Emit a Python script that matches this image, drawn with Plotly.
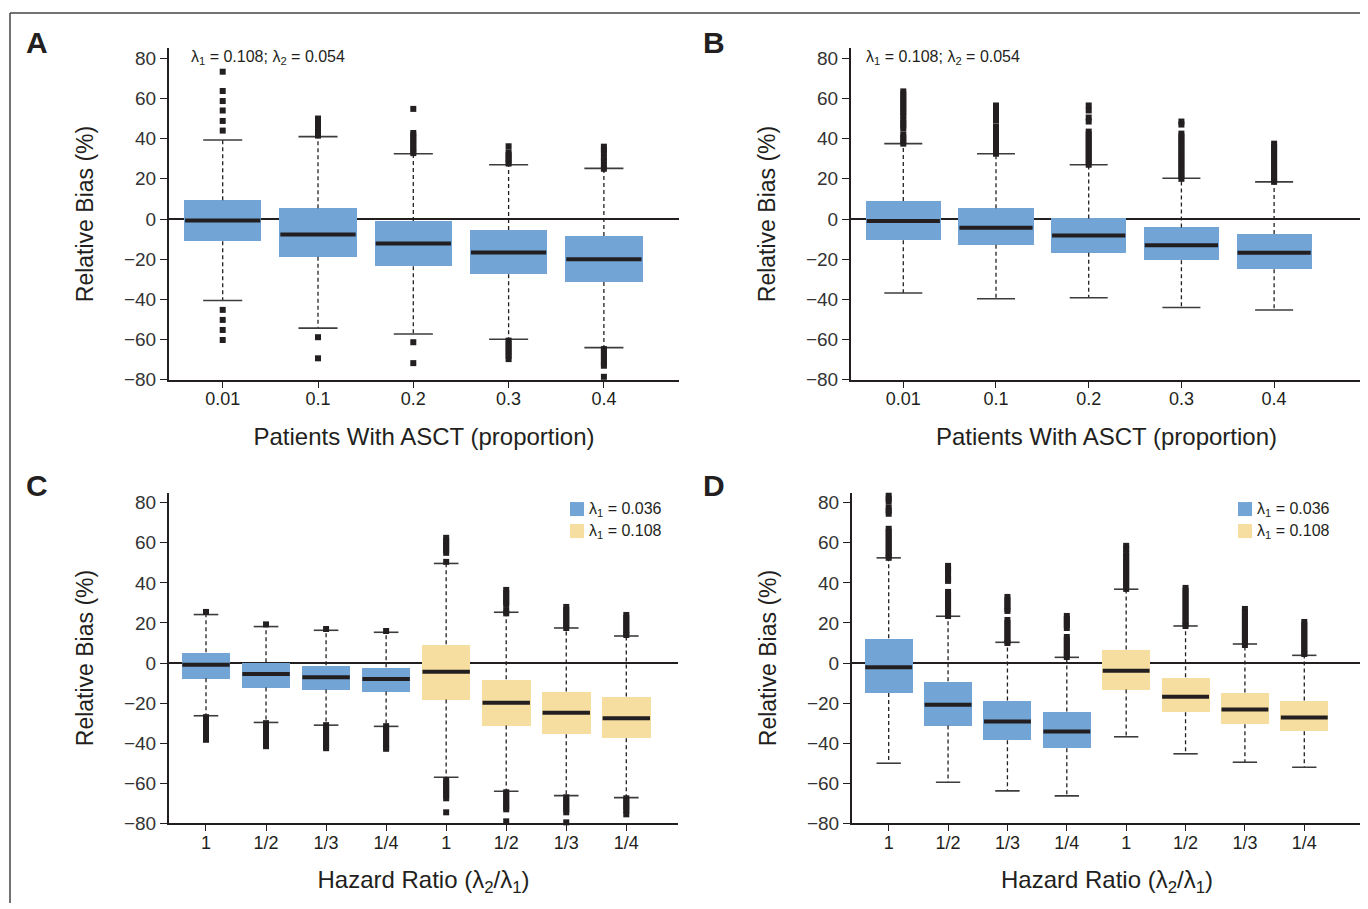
import plotly.graph_objects as go
from plotly.subplots import make_subplots

# page body has an 8px margin; the photographed page is also squeezed slightly in height
OFF = 8
SY = 0.986
W = 1368 - OFF
H = int(round(909 / SY)) - 2 * OFF

# ---------------- data ----------------
asct_labels = ["0.01", "0.1", "0.2", "0.3", "0.4"]
hr_labels = ["1", "1/2", "1/3", "1/4", "1", "1/2", "1/3", "1/4"]

# Panel A
A_q3 = [9.3, 5.3, -1.0, -5.5, -8.5]
A_med = [-0.7, -7.7, -12.2, -16.7, -20.0]
A_q1 = [-11.0, -18.8, -23.5, -27.5, -31.3]
A_hi = [39.3, 41.0, 32.5, 27.0, 25.2]
A_lo = [-40.5, -54.3, -57.2, -59.8, -64.0]
A_out = [
    [73.3, 63.7, 58.7, 54.0, 48.8, 44.0, -45.2, -50.2, -55.2, -60.2],
    [50.0, 48.5, 47.0, 45.5, 44.0, 42.5, 41.5, -58.8, -69.3],
    [54.8, 42.8, 41.5, 40.0, 38.5, 37.0, 35.5, 34.0, 32.8, -61.3, -71.7],
    [36.2, 33.2, 31.8, 30.4, 29.0, 27.6, -60.5, -62.0, -63.5, -65.0, -66.5, -68.0, -69.7],
    [36.0, 34.5, 33.0, 30.5, 29.0, 26.5, 25.0, -64.7, -66.0, -67.5, -69.0, -70.5, -72.0, -73.0, -78.5],
]

# Panel B
B_q3 = [9.0, 5.3, 0.3, -4.2, -7.5]
B_med = [-1.0, -4.3, -8.2, -13.0, -16.8]
B_q1 = [-10.5, -12.8, -16.8, -20.5, -25.0]
B_hi = [37.5, 32.5, 27.0, 20.3, 18.5]
B_lo = [-36.8, -39.7, -39.2, -44.0, -45.3]
B_out = [
    [63.5, 62.0, 60.5, 59.0, 57.5, 56.0, 54.5, 53.0, 51.5, 49.5, 48.0, 46.5, 45.0, 42.0, 40.5, 39.0, 37.5],
    [56.5, 55.0, 53.5, 52.0, 50.5, 49.0, 46.0, 44.5, 43.0, 41.5, 40.0, 38.5, 37.0, 35.5, 34.0, 32.5],
    [56.5, 54.0, 50.5, 48.5, 43.5, 42.0, 40.5, 39.0, 37.5, 36.0, 34.5, 33.0, 31.5, 30.0, 28.5, 27.0],
    [48.5, 47.0, 42.5, 41.0, 39.5, 38.0, 36.5, 35.0, 33.5, 32.0, 30.5, 29.0, 27.5, 26.0, 24.5, 23.0, 21.5, 20.0],
    [37.5, 36.0, 34.5, 33.0, 31.5, 30.0, 28.5, 27.0, 25.5, 24.0, 22.5, 21.0, 19.5, 18.5],
]

# Panel C
C_q3 = [5.35, 0.35, -1.15, -2.15, 9.35, -8.15, -14.15, -16.65]
C_med = [-0.8, -5.5, -7.15, -8.0, -4.3, -19.8, -24.8, -27.5]
C_q1 = [-7.65, -12.15, -13.15, -14.15, -18.15, -31.15, -35.5, -37.5]
C_hi = [24.2, 18.2, 16.35, 15.35, 49.7, 25.35, 17.5, 13.5]
C_lo = [-26.3, -29.65, -31.0, -31.6, -57.0, -64.0, -66.15, -67.15]
C_out = [
    [25.5, -27.0, -28.5, -30.0, -31.5, -33.0, -34.5, -36.0, -37.5, -38.3],
    [19.3, -30.0, -31.5, -33.0, -34.5, -36.0, -37.5, -39.0, -40.5, -41.5],
    [17.0, -31.0, -32.5, -34.0, -35.5, -37.0, -38.5, -40.0, -41.5, -42.5],
    [16.0, -31.5, -33.0, -34.5, -36.0, -37.5, -39.0, -40.5, -42.0, -42.8],
    [62.5, 61.0, 59.5, 58.0, 56.5, 55.0, 50.5, -58.5, -60.0, -61.5, -63.0, -64.5, -66.0, -67.5, -74.5],
    [36.5, 35.0, 33.5, 32.0, 30.5, 29.0, 26.0, 24.8, -64.5, -66.0, -67.5, -69.0, -70.5, -72.0, -73.0, -79.0],
    [28.0, 26.5, 25.0, 23.5, 22.0, 20.5, 19.0, 17.5, -67.0, -68.5, -70.0, -71.5, -73.0, -74.5, -79.5],
    [24.0, 22.5, 21.0, 19.5, 18.0, 16.5, 15.0, 14.0, -67.5, -69.0, -70.5, -72.0, -73.5, -75.5, -80.5],
]

# Panel D
D_q3 = [12.35, -9.15, -18.65, -24.15, 6.7, -7.15, -14.65, -18.65]
D_med = [-2.15, -20.8, -29.15, -34.15, -3.8, -16.8, -23.15, -27.15]
D_q1 = [-15.0, -31.15, -38.5, -42.5, -13.15, -24.5, -30.5, -34.0]
D_hi = [52.5, 23.35, 10.35, 2.85, 36.85, 18.5, 9.5, 3.85]
D_lo = [-50.0, -59.5, -63.8, -66.3, -36.8, -45.3, -49.5, -52.0]
D_out = [
    [83.5, 82.0, 80.5, 77.5, 76.0, 74.5, 67.0, 65.5, 64.0, 62.5, 61.0, 59.5, 58.0, 56.5, 55.0, 53.5, 52.5],
    [48.5, 47.0, 46.0, 43.5, 42.0, 41.0, 35.5, 34.0, 32.5, 31.0, 29.5, 28.0, 26.5, 25.0, 23.5],
    [33.0, 31.5, 30.0, 28.5, 27.0, 26.0, 21.5, 20.0, 18.5, 17.0, 15.5, 14.0, 12.5, 11.0, 10.0],
    [23.5, 22.0, 20.5, 19.0, 17.5, 13.0, 11.5, 10.0, 8.5, 7.0, 5.5, 4.0, 3.0],
    [58.5, 57.0, 55.0, 53.5, 52.0, 50.5, 49.0, 47.5, 46.0, 44.5, 43.0, 41.5, 40.0, 38.5, 37.0],
    [37.5, 36.0, 34.5, 33.0, 31.5, 30.0, 28.5, 27.0, 25.5, 24.0, 22.5, 21.0, 19.5, 18.5],
    [27.0, 25.5, 24.0, 22.5, 21.0, 19.5, 18.0, 16.5, 15.0, 13.5, 12.0, 10.5, 9.0],
    [20.5, 19.0, 17.5, 16.0, 14.5, 13.0, 11.5, 10.0, 8.5, 7.0, 5.5, 4.5],
]

lambda_groups = ["λ<sub>1</sub> = 0.036", "λ<sub>1</sub> = 0.108"]
panel_letters = ["A", "B", "C", "D"]
top_note = "λ<sub>1</sub> = 0.108; λ<sub>2</sub> = 0.054"

# ---------------- style ----------------
BLUE = "#72A5D6"
YELLOW = "#F5DEA0"
INK = "#231F20"
CAP = "#3c3c3c"
BOX_W = 0.81
MED_W = 0.79
CAP_W = 0.41
FONT = "Liberation Sans, Arial, sans-serif"


def px(x):
    return (x - OFF) / W


def py(y):
    return 1 - (y / SY - OFF) / H


fig = make_subplots(rows=2, cols=2)

panels = [
    dict(row=1, col=1, labels=asct_labels, q1=A_q1, med=A_med, q3=A_q3, lo=A_lo, hi=A_hi, out=A_out,
         colors=[BLUE] * 5, dom_x=(169, 679), dom_y=(48, 379), xr=(-0.5635, 4.788),
         xtitle="Patients With ASCT (proportion)", xstand=20),
    dict(row=1, col=2, labels=asct_labels, q1=B_q1, med=B_med, q3=B_q3, lo=B_lo, hi=B_hi, out=B_out,
         colors=[BLUE] * 5, dom_x=(851, 1362), dom_y=(48, 379), xr=(-0.564, 4.948),
         xtitle="Patients With ASCT (proportion)", xstand=20),
    dict(row=2, col=1, labels=hr_labels, q1=C_q1, med=C_med, q3=C_q3, lo=C_lo, hi=C_hi, out=C_out,
         colors=[BLUE] * 4 + [YELLOW] * 4, dom_x=(169, 678), dom_y=(491.7, 821.7), xr=(-0.616, 7.861),
         xtitle="Hazard Ratio (λ<sub>2</sub>/λ<sub>1</sub>)", xstand=19),
    dict(row=2, col=2, labels=hr_labels, q1=D_q1, med=D_med, q3=D_q3, lo=D_lo, hi=D_hi, out=D_out,
         colors=[BLUE] * 4 + [YELLOW] * 4, dom_x=(852, 1362), dom_y=(491.7, 821.7), xr=(-0.618, 7.972),
         xtitle="Hazard Ratio (λ<sub>2</sub>/λ<sub>1</sub>)", xstand=19),
]

for p in panels:
    n = len(p["labels"])
    xs = list(range(n))
    r, c = p["row"], p["col"]
    # boxes
    fig.add_trace(go.Bar(x=xs, y=[q3 - q1 for q1, q3 in zip(p["q1"], p["q3"])], base=p["q1"],
                         width=BOX_W, marker=dict(color=p["colors"], line=dict(width=0)),
                         showlegend=False, hoverinfo="skip"), row=r, col=c)
    # whiskers
    wx, wy = [], []
    for i in xs:
        wx += [i, i, None, i, i, None]
        wy += [p["q3"][i], p["hi"][i], None, p["q1"][i], p["lo"][i], None]
    fig.add_trace(go.Scatter(x=wx, y=wy, mode="lines", line=dict(color=INK, width=1.3, dash="4px,3px"),
                             showlegend=False, hoverinfo="skip"), row=r, col=c)
    # caps
    cx, cy = [], []
    for i in xs:
        cx += [i - CAP_W / 2, i + CAP_W / 2, None, i - CAP_W / 2, i + CAP_W / 2, None]
        cy += [p["hi"][i], p["hi"][i], None, p["lo"][i], p["lo"][i], None]
    fig.add_trace(go.Scatter(x=cx, y=cy, mode="lines", line=dict(color=CAP, width=1.6),
                             showlegend=False, hoverinfo="skip"), row=r, col=c)
    # outliers
    ox, oy = [], []
    for i in xs:
        ox += [i] * len(p["out"][i])
        oy += p["out"][i]
    fig.add_trace(go.Scatter(x=ox, y=oy, mode="markers", cliponaxis=False,
                             marker=dict(symbol="square", size=6, color=INK, line=dict(width=0)),
                             showlegend=False, hoverinfo="skip"), row=r, col=c)
    # medians
    mx, my = [], []
    for i in xs:
        mx += [i - MED_W / 2, i + MED_W / 2, None]
        my += [p["med"][i], p["med"][i], None]
    fig.add_trace(go.Scatter(x=mx, y=my, mode="lines", line=dict(color=INK, width=4),
                             showlegend=False, hoverinfo="skip"), row=r, col=c)

    fig.update_xaxes(row=r, col=c, domain=[px(p["dom_x"][0]), px(p["dom_x"][1])], range=list(p["xr"]),
                     tickvals=xs, ticktext=p["labels"], ticks="outside", ticklen=6, tickwidth=1.3,
                     tickcolor=INK, showline=True, linecolor=INK, linewidth=2, showgrid=False,
                     zeroline=False, tickfont=dict(family=FONT, size=18, color=INK),
                     ticklabelstandoff=-4,
                     title=dict(text=p["xtitle"], font=dict(family=FONT, size=24, color=INK),
                                standoff=p["xstand"]))
    fig.update_yaxes(row=r, col=c, domain=[py(p["dom_y"][1]), py(p["dom_y"][0])], range=[-80, 85],
                     tickvals=list(range(-80, 81, 20)), ticks="outside", ticklen=7, tickwidth=1.3,
                     tickcolor=INK, showline=True, linecolor=INK, linewidth=2, showgrid=False,
                     zeroline=True, zerolinecolor=INK, zerolinewidth=2,
                     tickfont=dict(family=FONT, size=19, color="#333333"),
                     title=dict(text="Relative Bias (%)", font=dict(family=FONT, size=23, color=INK),
                                standoff=24))

annotations = []
shapes = []
# panel letters
for letter, (lx, ly) in zip(panel_letters, [(37, 42), (714, 42), (37, 484), (714, 484)]):
    annotations.append(dict(text="<b>%s</b>" % letter, x=px(lx), y=py(ly), xref="paper", yref="paper",
                            xanchor="center", yanchor="middle", showarrow=False,
                            font=dict(family=FONT, size=30, color=INK)))
# lambda notes in A and B
for lx in (189, 864):
    annotations.append(dict(text=top_note, x=px(lx), y=py(57), xref="paper", yref="paper",
                            xanchor="left", yanchor="middle", showarrow=False,
                            font=dict(family=FONT, size=16, color=INK)))
# legends in C and D
for sx in (570, 1238):
    for k, (lab, colr) in enumerate(zip(lambda_groups, [BLUE, YELLOW])):
        yc = 508 + 22 * k
        shapes.append(dict(type="rect", xref="paper", yref="paper", x0=px(sx), x1=px(sx + 14),
                           y0=py(yc + 7), y1=py(yc - 7), fillcolor=colr, line=dict(width=0)))
        annotations.append(dict(text=lab, x=px(sx + 17), y=py(yc), xref="paper", yref="paper",
                                xanchor="left", yanchor="middle", showarrow=False,
                                font=dict(family=FONT, size=16, color=INK)))
# outer frame (left and top edges)
shapes.append(dict(type="line", xref="paper", yref="paper", x0=px(10), x1=px(10), y0=0, y1=py(13),
                   line=dict(color="#444444", width=1.5)))
shapes.append(dict(type="line", xref="paper", yref="paper", x0=px(10), x1=1, y0=py(13), y1=py(13),
                   line=dict(color="#444444", width=1.5)))

fig.update_layout(width=W, height=H, margin=dict(l=0, r=0, t=0, b=0), plot_bgcolor="white",
                  paper_bgcolor="white", showlegend=False, annotations=annotations, shapes=shapes,
                  bargap=0)

fig.write_html("out.html")
